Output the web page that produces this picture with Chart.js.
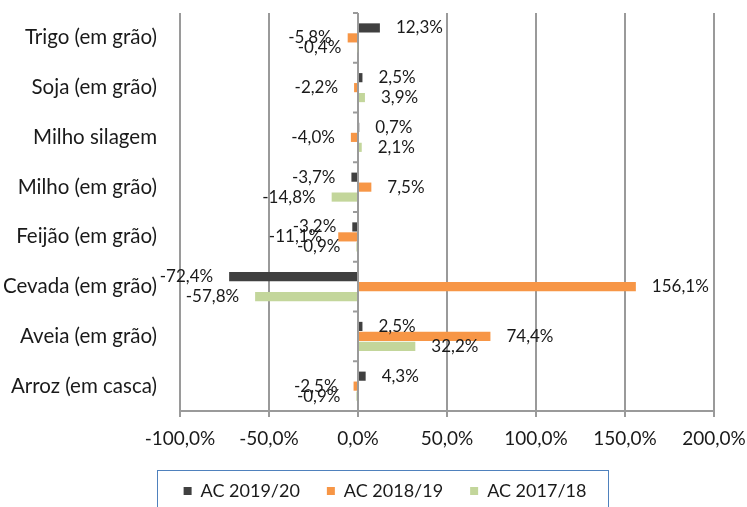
<!DOCTYPE html>
<html>
<head>
<meta charset="utf-8">
<script src="https://cdn.jsdelivr.net/npm/chart.js@4"></script>
<style>
  html, body { margin: 0; padding: 0; background: #fff; }
  #wrap { width: 747px; height: 507px; }
</style>
</head>
<body>
<div id="wrap"><canvas id="chart"></canvas></div>
<script>
const categories = ['Trigo (em grão)', 'Soja (em grão)', 'Milho silagem', 'Milho (em grão)',
    'Feijão (em grão)', 'Cevada (em grão)', 'Aveia (em grão)', 'Arroz (em casca)'];
const ac2019 = [12.3, 2.5, 0.7, -3.7, -3.2, -72.4, 2.5, 4.3];
const ac2018 = [-5.8, -2.2, -4.0, 7.5, -11.1, 156.1, 74.4, -2.5];
const ac2017 = [-0.4, 3.9, 2.1, -14.8, -0.9, -57.8, 32.2, -0.9];
const seriesNames = ['AC 2019/20', 'AC 2018/19', 'AC 2017/18'];
const xTicks = [-100, -50, 0, 50, 100, 150, 200];

const fmt = v => v.toFixed(1).replace('.', ',') + '%';
const font = 'Lato, "Liberation Sans", sans-serif';

// value labels next to the bar ends
const barLabels = {
    id: 'barLabels',
    afterDatasetsDraw(chart) {
        const ctx = chart.ctx;
        ctx.save();
        ctx.font = '17px ' + font;
        ctx.fillStyle = '#1a1a1a';
        ctx.textBaseline = 'middle';
        chart.data.datasets.forEach((ds, i) => {
            chart.getDatasetMeta(i).data.forEach((bar, j) => {
                const v = ds.data[j];
                if (v >= 0) {
                    ctx.textAlign = 'left';
                    ctx.fillText(fmt(v), bar.x + 16, bar.y);
                } else {
                    ctx.textAlign = 'right';
                    ctx.fillText(fmt(v), bar.x - 16, bar.y);
                }
            });
        });
        ctx.restore();
    }
};

// zero line tick marks, legend shift and legend frame
const decor = {
    id: 'decor',
    afterLayout(chart) {
        const lg = chart.legend;
        lg.left += 28;
        lg.right += 28;
        lg.top += 3;
        lg.bottom += 3;
    },
    afterDraw(chart) {
        const ctx = chart.ctx;
        const xs = chart.scales.x, ys = chart.scales.y;
        const x0 = xs.getPixelForValue(0);
        ctx.save();
        ctx.strokeStyle = '#9a9a9a';
        ctx.lineWidth = 2;
        for (let k = 0; k <= categories.length; k++) {
            const y = ys.top + (ys.bottom - ys.top) * k / categories.length;
            ctx.beginPath();
            ctx.moveTo(x0 - 5, y);
            ctx.lineTo(x0, y);
            ctx.stroke();
        }
        const boxes = chart.legend.legendHitBoxes;
        const minX = Math.min(...boxes.map(b => b.left));
        const maxX = Math.max(...boxes.map(b => b.left + b.width));
        ctx.strokeStyle = '#4f81bd';
        ctx.lineWidth = 1;
        ctx.strokeRect(Math.round(minX - 27) + 0.5, 470.5, Math.round(maxX - minX + 48), 60);
        ctx.restore();
    }
};

new Chart(document.getElementById('chart'), {
    type: 'bar',
    data: {
        labels: categories,
        datasets: [
            { label: seriesNames[0], data: ac2019, backgroundColor: '#404040' },
            { label: seriesNames[1], data: ac2018, backgroundColor: '#f79646' },
            { label: seriesNames[2], data: ac2017, backgroundColor: '#c3d69b' }
        ]
    },
    options: {
        indexAxis: 'y',
        responsive: true,
        maintainAspectRatio: false,
        animation: false,
        categoryPercentage: 0.6,
        barPercentage: 0.92,
        layout: { padding: { left: 0, right: 33, top: 13, bottom: 0 } },
        scales: {
            x: {
                min: -100,
                max: 200,
                afterBuildTicks: s => { s.ticks = xTicks.map(v => ({ value: v })); },
                afterFit: s => { s.height = 41; s.paddingLeft = 0; s.paddingRight = 0; },
                grid: { color: '#9a9a9a', lineWidth: 2, drawTicks: true, tickLength: 6 },
                border: { color: '#9a9a9a', width: 2 },
                ticks: { callback: v => fmt(v), color: '#1a1a1a', font: { family: font, size: 19 }, padding: 10, maxRotation: 0 }
            },
            y: {
                afterFit: s => { s.width = 180; s.paddingTop = 0; s.paddingBottom = 0; },
                grid: { display: false, drawTicks: false },
                border: { display: false },
                ticks: { color: '#1a1a1a', font: { family: font, size: 20.5 }, padding: 23 }
            }
        },
        plugins: {
            legend: {
                position: 'bottom',
                labels: { boxWidth: 8, boxHeight: 8, padding: 27, color: '#1a1a1a', font: { family: font, size: 18 } }
            },
            tooltip: { enabled: false }
        }
    },
    plugins: [barLabels, decor]
});
</script>
</body>
</html>
